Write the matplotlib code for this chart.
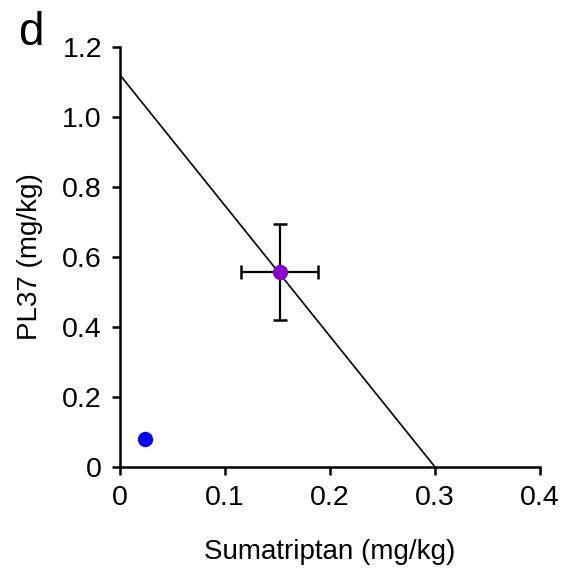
import matplotlib
matplotlib.use("Agg")
import matplotlib.pyplot as plt

plt.rcParams['font.family'] = ['Liberation Sans', 'DejaVu Sans']

# additive line: PL37 alone vs sumatriptan alone
line_x = [0.0, 0.3]
line_y = [1.12, 0.0]

# experimental combination point with error bars
exp_x = [0.152]
exp_y = [0.558]
exp_xerr = [0.037]
exp_yerr = [0.137]

# theoretical point
theo_x = [0.024]
theo_y = [0.079]

fig = plt.figure(figsize=(5.69, 5.72), dpi=100)
ax = fig.add_axes([120/569, 105/572, 420/569, 420/572])

ax.plot(line_x, line_y, color='black', lw=1.2)
ax.errorbar(exp_x, exp_y, xerr=exp_xerr, yerr=exp_yerr, fmt='none',
            ecolor='black', elinewidth=1.6, capsize=5, capthick=1.8)
ax.plot(exp_x, exp_y, 'o', color='#8800cc', ms=10, zorder=3)
ax.plot(theo_x, theo_y, 'o', color='#0000ff', ms=10, zorder=3)

ax.set_xlim(0, 0.4)
ax.set_ylim(0, 1.2)
ax.set_xticks([0, 0.1, 0.2, 0.3, 0.4])
ax.set_xticklabels(['0', '0.1', '0.2', '0.3', '0.4'])
ax.set_yticks([0, 0.2, 0.4, 0.6, 0.8, 1.0, 1.2])
ax.set_yticklabels(['0', '0.2', '0.4', '0.6', '0.8', '1.0', '1.2'])
ax.spines['top'].set_visible(False)
ax.spines['right'].set_visible(False)
for s in ['left', 'bottom']:
    ax.spines[s].set_linewidth(1.8)
ax.tick_params(direction='out', length=6, width=1.8, labelsize=20.5, pad=7)

ax.set_xlabel('Sumatriptan (mg/kg)', fontsize=20, labelpad=20)
ax.set_ylabel('PL37 (mg/kg)', fontsize=20, labelpad=14)

fig.text(18/569, 1 - 45/572, 'd', fontsize=33)

fig.savefig('out.png', dpi=100)
